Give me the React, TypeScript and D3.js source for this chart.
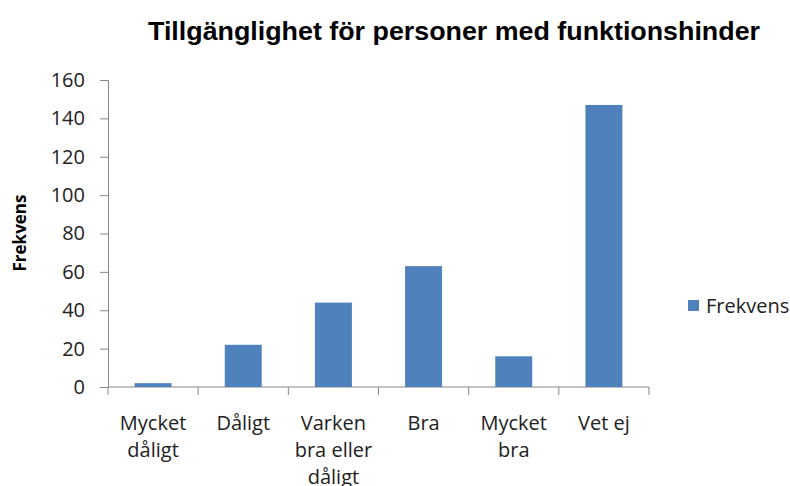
import React, { useEffect, useRef } from "react";
import * as d3 from "d3";

const categories = [
  ["Mycket", "dåligt"],
  ["Dåligt"],
  ["Varken", "bra eller", "dåligt"],
  ["Bra"],
  ["Mycket", "bra"],
  ["Vet ej"],
];
const frekvens = [2, 22, 44, 63, 16, 147];
const yTicks = [0, 20, 40, 60, 80, 100, 120, 140, 160];
const title = "Tillgänglighet för personer med funktionshinder";
const seriesName = "Frekvens";

export default function App() {
  const ref = useRef<SVGSVGElement>(null);

  useEffect(() => {
    document.body.style.margin = "0";
    const width = 790;
    const height = 486;
    const left = 108, right = 649, top = 80, bottom = 387;
    const font = "'Open Sans', sans-serif";

    const svg = d3.select(ref.current);
    svg.selectAll("*").remove();

    const x = d3
      .scaleBand<number>()
      .domain(categories.map((d, i) => i))
      .range([left, right])
      .paddingInner(0.59)
      .paddingOuter(0.295);
    const xTicks = d3.scaleBand<number>().domain(categories.map((d, i) => i)).range([left, right]);

    const y = d3.scaleLinear().domain([0, 160]).range([bottom, top]);

    // title
    svg
      .append("text")
      .attr("x", 454)
      .attr("y", 40)
      .attr("text-anchor", "middle")
      .style("font-family", "'Liberation Sans', Arial, sans-serif")
      .style("font-weight", "bold")
      .style("font-size", "25px")
      .attr("textLength", 612)
      .attr("lengthAdjust", "spacingAndGlyphs")
      .attr("fill", "#000")
      .text(title);

    // y axis
    const yAxis = svg
      .append("g")
      .attr("transform", `translate(${left},0)`)
      .call(d3.axisLeft(y).tickValues(yTicks).tickSize(8).tickPadding(15));
    yAxis.select(".domain").attr("stroke", "#868686");
    yAxis.selectAll(".tick line").attr("stroke", "#868686");
    yAxis
      .selectAll(".tick text")
      .style("font-family", font)
      .style("font-size", "20px")
      .attr("fill", "#222");

    // x axis
    const xAxis = svg.append("g").attr("transform", `translate(0,${bottom})`);
    xAxis
      .append("line")
      .attr("x1", left)
      .attr("x2", right)
      .attr("stroke", "#868686");
    xAxis
      .selectAll("line.tick")
      .data(d3.range(categories.length + 1))
      .enter()
      .append("line")
      .attr("class", "tick")
      .attr("x1", (d) => (d < categories.length ? xTicks(d)! : right))
      .attr("x2", (d) => (d < categories.length ? xTicks(d)! : right))
      .attr("y1", 0)
      .attr("y2", 8)
      .attr("stroke", "#868686");

    const labels = xAxis
      .selectAll("text.lbl")
      .data(categories)
      .enter()
      .append("text")
      .attr("class", "lbl")
      .attr("text-anchor", "middle")
      .style("font-family", font)
      .style("font-size", "20px")
      .attr("fill", "#222");
    labels
      .selectAll("tspan")
      .data((d, i) => d.map((s) => ({ s, i })))
      .enter()
      .append("tspan")
      .attr("x", (d) => xTicks(d.i)! + xTicks.bandwidth() / 2)
      .attr("y", (d, j) => 43 + j * 27)
      .text((d) => d.s);

    // bars
    svg
      .selectAll("rect.bar")
      .data(frekvens)
      .enter()
      .append("rect")
      .attr("class", "bar")
      .attr("x", (d, i) => x(i)!)
      .attr("y", (d) => y(d))
      .attr("width", x.bandwidth())
      .attr("height", (d) => bottom - y(d))
      .attr("fill", "#4F81BD");

    // y axis title
    svg
      .append("text")
      .attr("transform", "translate(26,233) rotate(-90)")
      .attr("text-anchor", "middle")
      .style("font-family", font)
      .style("font-weight", "bold")
      .style("font-size", "17px")
      .attr("fill", "#000")
      .text(seriesName);

    // legend
    svg
      .append("rect")
      .attr("x", 688)
      .attr("y", 300)
      .attr("width", 11)
      .attr("height", 11)
      .attr("fill", "#4F81BD");
    svg
      .append("text")
      .attr("x", 706)
      .attr("y", 313)
      .style("font-family", font)
      .style("font-size", "20px")
      .attr("fill", "#222")
      .text(seriesName);

    svg.attr("width", width).attr("height", height);
  }, []);

  return (
    <svg
      ref={ref}
      width={790}
      height={486}
      style={{ position: "absolute", left: 0, top: 0, background: "#fff" }}
    />
  );
}
